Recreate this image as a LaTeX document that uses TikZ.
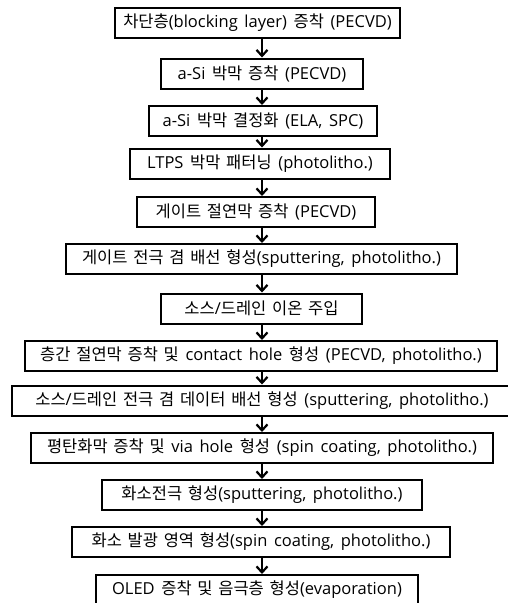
\documentclass[tikz,border=0pt]{standalone}
\usepackage{fontspec}
\setmainfont[WordSpace=1.55]{Open Sans}
\newfontfamily\krfont[WordSpace=1.55]{Noto Sans CJK KR}
\newcommand{\K}[1]{{\krfont #1}}
\usetikzlibrary{arrows.meta}
\begin{document}
\begin{tikzpicture}[x=1pt,y=-1pt,
  stepbox/.style={draw=black,line width=2pt,minimum height=30pt,inner sep=0pt,
    font=\fontsize{16.5}{18}\selectfont,fill=white},
  arr/.style={line width=2.2pt,-{Straight Barb[length=6pt,width=11pt,line width=2.2pt]}}]
\useasboundingbox (0,0) rectangle (507,603);
\coordinate (ax) at (262,0);
\node[stepbox,minimum width=285pt] (n1) at (257.5,23) {\K{차단층}(blocking layer) \K{증착} (PECVD)};
\node[stepbox,minimum width=202pt] (n2) at (262,73.5) {a-Si \K{박막 증착} (PECVD)};
\node[stepbox,minimum width=228pt] (n3) at (263,121) {a-Si \K{박막 결정화} (ELA, SPC)};
\node[stepbox,minimum width=260pt] (n4) at (260,163.5) {LTPS \K{박막 패터닝} (photolitho.)};
\node[stepbox,minimum width=238pt] (n5) at (256,212) {\K{게이트 절연막 증착} (PECVD)};
\node[stepbox,minimum width=391pt] (n6) at (261.5,259) {\K{게이트 전극 겸 배선 형성}(sputtering, photolitho.)};
\node[stepbox,minimum width=201pt] (n7) at (261.5,308.5) {\K{소스}/\K{드레인 이온 주입}};
\node[stepbox,minimum width=472pt] (n8) at (261,356) {\K{층간 절연막 증착 및} contact hole \K{형성} (PECVD, photolitho.)};
\node[stepbox,minimum width=500pt] (n9) at (262,400.5) {\K{소스}/\K{드레인 전극 겸 데이터 배선 형성} (sputtering, photolitho.)};
\node[stepbox,minimum width=462pt] (n10) at (262,448) {\K{평탄화막 증착 및} via hole \K{형성} (spin coating, photolitho.)};
\node[stepbox,minimum width=320pt] (n11) at (262,495) {\K{화소전극 형성}(sputtering, photolitho.)};
\node[stepbox,minimum width=378pt] (n12) at (261,542) {\K{화소 발광 영역 형성}(spin coating, photolitho.)};
\node[stepbox,minimum width=322pt] (n13) at (257,590) {OLED \K{증착 및 음극층 형성}(evaporation)};
\foreach \a/\b in {n1/n2,n2/n3,n3/n4,n4/n5,n5/n6,n6/n7,n7/n8,n8/n9,n9/n10,n10/n11,n11/n12,n12/n13}
  \draw[arr] (\a.south -| ax) -- (\b.north -| ax);
\end{tikzpicture}
\end{document}
